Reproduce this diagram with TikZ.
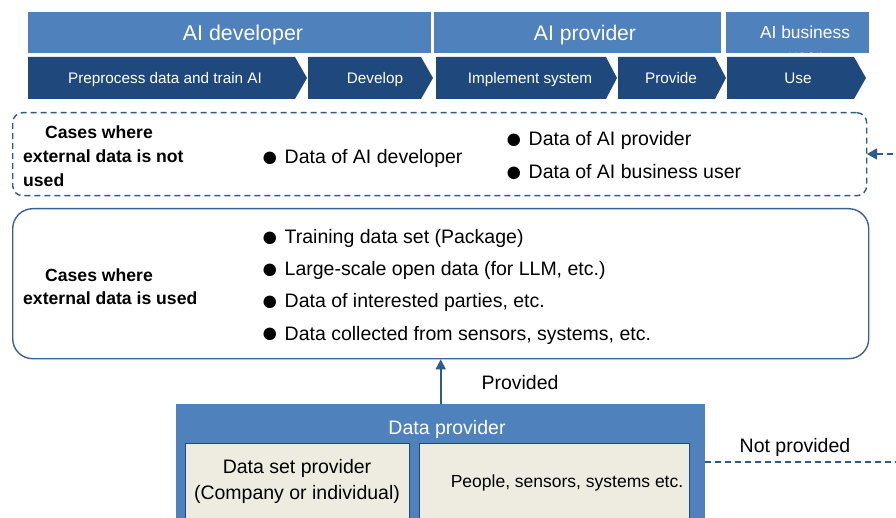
\documentclass[tikz,border=0pt]{standalone}
\usepackage{fontspec}
\setmainfont{Liberation Sans}
\usetikzlibrary{arrows.meta}
\definecolor{lblue}{HTML}{4F81BD}
\definecolor{dblue}{HTML}{1F497D}
\definecolor{oblue}{HTML}{3B6196}
\definecolor{beige}{HTML}{EEECE1}
\definecolor{ablue}{HTML}{2E5A8C}
\newcommand\bdot{\raisebox{-2.6pt}{\fontsize{29}{23}\selectfont ●}\hspace{6pt}}
\tikzset{
  hdr/.style={fill=lblue, draw=none, inner sep=0pt, anchor=north west, text=white},
  chev/.style={fill=dblue},
  chevtxt/.style={text=white, anchor=base, font=\fontsize{15.3}{18}\selectfont, inner sep=0pt},
  bul/.style={anchor=base west, inner sep=0pt, font=\fontsize{19.5}{23}\selectfont},
  plain/.style={anchor=base, inner sep=0pt, font=\fontsize{19.5}{23}\selectfont},
  lbl/.style={anchor=west, inner sep=0pt, align=left, font=\fontsize{17.6}{24}\selectfont\bfseries},
  dline/.style={draw=ablue, line width=1.4pt, dash pattern=on 6pt off 4pt},
  inbox/.style={fill=beige, draw=dblue, line width=0.8pt, anchor=north west, inner sep=0pt}
}
\begin{document}
\begin{tikzpicture}[x=1pt,y=-1pt]
\useasboundingbox (0,0) rectangle (896,518);
\clip (0,0) rectangle (896,518);
% headers
\node[hdr, minimum width=403, minimum height=41] (hdev) at (28,12) {};
\node[text=white, anchor=base, inner sep=0pt, font=\fontsize{21.4}{24}\selectfont] (hdevt) at (243,40.7) {AI developer};
\node[hdr, minimum width=287, minimum height=41] (hprov) at (434,12) {};
\node[text=white, anchor=base, inner sep=0pt, font=\fontsize{21.1}{24}\selectfont] (hprovt) at (585,40.7) {AI provider};
\node[hdr, minimum width=143, minimum height=41] (huse) at (726,12) {};
\node[text=white, inner sep=0pt, align=center, font=\fontsize{17.4}{24}\selectfont] (huset) at (805,44) {AI business\\user};
% chevrons
\fill[chev] (28,57) -- (295,57) -- (307,78) -- (295,99) -- (28,99) -- cycle;
\fill[chev] (308,57) -- (421,57) -- (433,78) -- (421,99) -- (308,99) -- cycle;
\fill[chev] (436,57) -- (606,57) -- (617,78) -- (606,99) -- (436,99) -- cycle;
\fill[chev] (618,57) -- (715,57) -- (726,78) -- (715,99) -- (618,99) -- cycle;
\fill[chev] (727,57) -- (854,57) -- (866,78) -- (854,99) -- (727,99) -- cycle;
\node[chevtxt] (c1) at (165,83.5) {Preprocess data and train AI};
\node[chevtxt] (c2) at (375,83.5) {Develop};
\node[chevtxt] (c3) at (530,83.5) {Implement system};
\node[chevtxt] (c4) at (671,83.5) {Provide};
\node[chevtxt] (c5) at (798,83.5) {Use};
% not used box
\node[dline, rounded corners=10pt, minimum width=854, minimum height=83, anchor=north west, inner sep=0pt] (notused) at (12,112) {};
\node[lbl] (nul) at (23,156) {\hspace*{22pt}Cases where\\external data is not\\used};
\node[bul] (n1) at (261,164) {\bdot Data of AI developer};
\node[bul] (n2) at (505,146) {\bdot Data of AI provider};
\node[bul] (n3) at (505,179) {\bdot Data of AI business user};
% used box
\node[draw=oblue, line width=1.4pt, rounded corners=20pt, minimum width=856, minimum height=150, anchor=north west, inner sep=0pt] (used) at (12,208) {};
\node[lbl, font=\fontsize{17.6}{23}\selectfont\bfseries] (ul) at (23,287) {\hspace*{22pt}Cases where\\external data is used};
\node[bul] (u1) at (261,244) {\bdot Training data set (Package)};
\node[bul] (u2) at (261,276) {\bdot Large-scale open data (for LLM, etc.)};
\node[bul] (u3) at (261,308) {\bdot Data of interested parties, etc.};
\node[bul] (u4) at (261,340) {\bdot Data collected from sensors, systems, etc.};
% data provider
\node[fill=lblue, anchor=north west, inner sep=0pt, minimum width=529, minimum height=120] (dp) at (176,404) {};
\node[plain, text=white] (dpt) at (447,434) {Data provider};
\node[inbox, minimum width=224, minimum height=80] (ds) at (185,443) {};
\node[inner sep=0pt, align=center, font=\fontsize{19.5}{26}\selectfont] (dst) at (297,481) {Data set provider\\(Company or individual)};
\node[inbox, minimum width=270, minimum height=80] (ps) at (419,443) {};
\node[anchor=base, inner sep=0pt, font=\fontsize{17.5}{21}\selectfont] (pst) at (567,487) {People, sensors, systems etc.};
% connectors
\draw[ablue, line width=1.8pt, -{Triangle[length=10pt,width=10pt]}] (dp.north) -- (used.south);
\node[plain] (prov) at (520,389) {Provided};
\node[plain] (nprov) at (795,452) {Not provided};
\coordinate (d1) at (705,462);
\coordinate (d2) at (910,462);
\coordinate (d3) at (910,154);
\coordinate (d4) at (867,154);
\draw[dline, -{Triangle[length=10pt,width=11pt]}] (d1) -- (d2) -- (d3) -- (d4);
\end{tikzpicture}
\end{document}
